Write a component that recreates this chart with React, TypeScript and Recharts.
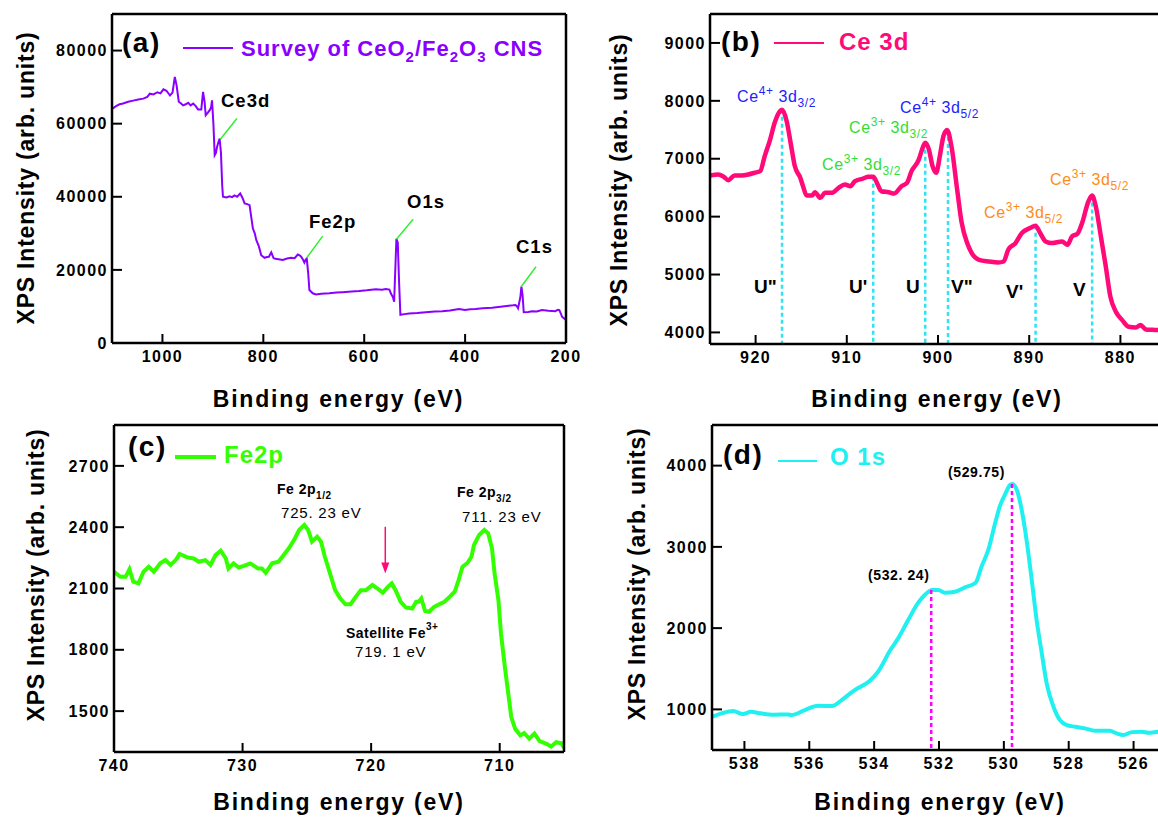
import { LineChart, Line, XAxis, YAxis, ReferenceLine, ReferenceDot, Customized } from "recharts"

const FONT = "'Liberation Sans', Arial, Helvetica, sans-serif"

// (a) survey spectrum
const surveyBE = [1100, 1092, 1085, 1078, 1068, 1058, 1048, 1038, 1030, 1025, 1018, 1010, 1004, 998, 992, 985, 980, 975.5, 972, 967.6, 963, 959, 954, 949, 944, 939, 934, 929.4, 923, 919.5, 916.5, 914.2, 910, 906.3, 903.5, 901.7, 899, 896.4, 894, 891.8, 889, 886.6, 884, 881.5, 880, 873, 866.8, 862, 857, 852, 845.8, 841, 837.2, 832, 827.3, 824, 820.7, 817, 814, 809, 804.2, 797.6, 793, 789, 784.3, 780, 777.9, 770, 761.3, 753, 744.9, 738, 731.7, 728, 725, 721, 718.6, 716, 713.9, 711, 708.7, 702, 695.5, 685, 669.2, 655, 642.9, 625, 610, 595, 577, 565, 557.2, 550, 547.3, 543, 540.7, 536.2, 533.5, 531, 528.3, 520, 511, 495, 478, 460, 445.3, 430, 412.3, 400, 390, 379.4, 365, 346.4, 330, 313.4, 305, 300.2, 297, 295, 290.5, 288.4, 286, 283.8, 275, 267.3, 258, 247.5, 235, 221.1, 216, 213.3, 210, 208, 202.5, 200]
const surveyCounts = [64000, 64800, 65300, 65500, 66000, 66300, 66600, 66850, 67300, 68200, 68000, 68600, 68300, 69400, 69000, 67700, 68500, 72800, 70500, 66000, 65500, 65000, 65300, 65700, 65000, 65500, 64800, 63900, 63900, 68700, 66000, 62300, 63000, 63700, 64500, 66400, 60000, 51400, 52000, 53600, 55000, 55900, 52000, 43000, 40000, 39800, 40100, 39900, 40400, 40000, 40900, 39600, 38200, 38000, 37700, 34500, 31300, 30000, 28200, 26500, 24000, 23300, 23500, 23600, 24800, 23300, 23100, 22900, 22700, 23100, 23300, 23200, 24200, 24000, 23600, 22700, 22000, 22800, 23100, 19000, 14500, 13600, 13300, 13500, 13600, 13800, 13900, 14100, 14200, 14400, 14700, 14600, 14750, 14600, 13600, 12500, 11300, 28500, 27500, 17000, 7700, 7900, 8100, 8200, 8400, 8600, 8700, 8900, 9300, 9000, 9200, 9300, 9500, 9650, 9900, 10200, 10300, 10400, 10000, 9500, 12500, 15400, 13000, 8400, 8500, 8700, 8600, 9000, 8800, 8700, 9100, 9000, 8000, 7200, 6600, 6300]
const surveyTicksX = [1000, 800, 600, 400, 200]
const surveyTicksY = [0, 20000, 40000, 60000, 80000]
const surveyPeakNames = ["Ce3d", "Fe2p", "O1s", "C1s"]
const leaderFromBE = [885.2, 714, 536.2, 289]
const leaderFromI = [55730, 23310, 28410, 15380]
const leaderToBE = [852.4, 682.4, 503, 259.4]
const leaderToI = [61390, 29230, 33880, 20840]

// (b) Ce 3d
const ceBE = [925, 924.1, 923.5, 923, 922.3, 921.5, 920.8, 920.1, 919.5, 919, 918.4, 917.9, 917.3, 917.1, 916.6, 916.1, 915.7, 915.1, 914.8, 914.4, 913.8, 913.5, 912.9, 912.4, 911.6, 910.9, 910.2, 909.6, 909.1, 908.3, 907.6, 907.1, 906.7, 906.2, 905.4, 904.8, 904, 903.4, 902.9, 902.1, 901.8, 901.4, 901, 900.6, 900.2, 899.8, 899.4, 899, 898.5, 897.9, 897.4, 896.8, 896.3, 895.5, 894.4, 893.4, 892.8, 892.3, 891.5, 890.8, 889.9, 889.3, 888.8, 888.2, 887.5, 886.4, 885.8, 885.3, 884.7, 884.2, 883.5, 883.1, 882.7, 882.2, 881.6, 881.1, 880.5, 879.8, 879.1, 878.3, 877.8, 877.2, 876.5, 875]
const ceCounts = [6711, 6729, 6689, 6630, 6711, 6711, 6729, 6758, 6786, 7046, 7336, 7625, 7827, 7844, 7653, 7220, 6873, 6671, 6526, 6364, 6364, 6422, 6324, 6411, 6411, 6498, 6555, 6526, 6613, 6654, 6689, 6689, 6584, 6439, 6422, 6399, 6526, 6584, 6786, 6989, 7133, 7278, 7162, 6873, 6758, 7046, 7393, 7497, 7191, 6468, 5891, 5544, 5370, 5254, 5225, 5208, 5225, 5428, 5544, 5717, 5804, 5844, 5717, 5572, 5544, 5572, 5514, 5659, 5705, 5891, 6266, 6364, 6179, 5717, 5138, 4618, 4357, 4213, 4098, 4086, 4127, 4052, 4045, 4035]
const ceTicksX = [920, 910, 900, 890, 880]
const ceTicksY = [4000, 5000, 6000, 7000, 8000, 9000]
const cePeakBE = [917.1, 907.1, 901.4, 898.9, 889.3, 883.1]
const cePeakI = [7844, 6689, 7278, 7497, 5844, 6364]
const cePeakNames = ['U"', "U'", "U", 'V"', "V'", "V"]

// (c) Fe 2p
const feBE = [740, 739.5, 739.1, 738.8, 738.5, 738.1, 737.7, 737.3, 736.9, 736.4, 736, 735.6, 735.2, 734.9, 734.3, 733.8, 733.4, 732.9, 732.5, 732.1, 731.7, 731.3, 731.1, 730.7, 730.3, 729.9, 729.4, 728.8, 728.5, 728.2, 727.7, 727.2, 726.8, 726.4, 726, 725.6, 725.2, 724.9, 724.6, 724.2, 723.9, 723.6, 723.2, 722.8, 722.4, 722, 721.6, 721.2, 720.8, 720.4, 719.9, 719.5, 719.1, 718.7, 718.4, 718.1, 717.7, 717.3, 716.8, 716.5, 716.3, 716.1, 715.8, 715.5, 715.1, 714.7, 714.3, 713.9, 713.5, 713.2, 712.9, 712.5, 712.2, 712, 711.6, 711.2, 710.9, 710.6, 710.4, 710.1, 709.9, 709.6, 709.3, 709.1, 708.8, 708.4, 708.1, 707.7, 707.3, 706.9, 706.4, 706, 705.6, 705.2, 705]
const feCounts = [2182, 2157, 2157, 2194, 2133, 2125, 2182, 2206, 2182, 2223, 2239, 2215, 2239, 2269, 2252, 2247, 2231, 2239, 2215, 2264, 2285, 2247, 2198, 2223, 2203, 2211, 2223, 2198, 2198, 2177, 2223, 2231, 2264, 2297, 2337, 2386, 2411, 2386, 2329, 2353, 2329, 2255, 2174, 2092, 2051, 2023, 2023, 2059, 2092, 2092, 2117, 2100, 2079, 2108, 2125, 2092, 2035, 2007, 2002, 2035, 2035, 2051, 1990, 1986, 2010, 2023, 2035, 2059, 2084, 2141, 2206, 2226, 2255, 2313, 2362, 2386, 2370, 2297, 2174, 2043, 1880, 1716, 1569, 1471, 1414, 1381, 1393, 1365, 1390, 1353, 1341, 1327, 1348, 1343, 1320]
const feTicksX = [740, 730, 720, 710]
const feTicksY = [1500, 1800, 2100, 2400, 2700]
const feSatBE = 718.9
const feArrowTop = 2402
const feArrowTip = 2174

// (d) O 1s
const oBE = [539, 538.7, 538.35, 538.04, 537.8, 537.5, 537.1, 536.65, 536.55, 536.14, 535.73, 535.3, 535, 534.6, 534.13, 533.88, 533.5, 533.26, 532.95, 532.64, 532.44, 532.21, 532.02, 531.82, 531.51, 531.2, 530.87, 530.69, 530.48, 530.27, 530.12, 529.97, 529.81, 529.74, 529.6, 529.45, 529.3, 529.14, 528.99, 528.83, 528.68, 528.47, 528.27, 528.06, 527.8, 527.5, 527.19, 526.73, 526.52, 526.31, 526.05, 525.74, 525.54, 525.25, 525]
const oCounts = [909, 951, 979, 942, 970, 951, 934, 938, 930, 991, 1044, 1041, 1115, 1238, 1352, 1463, 1730, 1874, 2100, 2313, 2408, 2469, 2469, 2436, 2448, 2502, 2559, 2756, 2962, 3291, 3504, 3639, 3762, 3775, 3701, 3455, 3085, 2593, 2100, 1690, 1320, 1033, 868, 806, 786, 766, 736, 736, 704, 684, 720, 724, 712, 724, 730]
const oTicksX = [538, 536, 534, 532, 530, 528, 526]
const oTicksY = [1000, 2000, 3000, 4000]
const oPeakBE = [532.24, 529.75]
const oPeakI = [2469, 3775]

const toRows = (xs: number[], ys: number[]) => xs.map((be, i) => ({ be, v: ys[i] }))
const surveyData = toRows(surveyBE, surveyCounts)
const ceData = toRows(ceBE, ceCounts)
const feData = toRows(feBE, feCounts)
const oData = toRows(oBE, oCounts)

const axisLine = { stroke: "#000", strokeWidth: 2.5 }
const tickLine = { stroke: "#000", strokeWidth: 2 }
const tickFont = { fill: "#000", fontSize: 16, fontWeight: 700 }

function frame(xDomain: number[], yDomain: number[], xTicks: number[], yTicks: number[], yWidth: number) {
  return [
    <XAxis key="xb" xAxisId="b" dataKey="be" type="number" domain={xDomain} ticks={xTicks} interval={0} reversed allowDataOverflow height={30} tickSize={-9} tickMargin={17} axisLine={axisLine} tickLine={tickLine} tick={tickFont} />,
    <XAxis key="xt" xAxisId="t" orientation="top" type="number" domain={xDomain} ticks={xTicks} interval={0} reversed allowDataOverflow height={1} tickSize={-9} axisLine={axisLine} tickLine={tickLine} tick={false} />,
    <YAxis key="yl" yAxisId="l" type="number" domain={yDomain} ticks={yTicks} interval={0} allowDataOverflow width={yWidth} tickSize={-10} tickMargin={14} axisLine={axisLine} tickLine={tickLine} tick={tickFont} />,
    <YAxis key="yr" yAxisId="r" orientation="right" type="number" domain={yDomain} ticks={yTicks} interval={0} allowDataOverflow width={1} tickSize={-10} axisLine={axisLine} tickLine={tickLine} tick={false} />,
  ]
}

function Titles({ yx, yy, xx, xy }: { yx: number; yy: number; xx: number; xy: number }) {
  return (
    <g fontWeight={700} fontSize={23} fill="#000">
      <text x={yx} y={yy} textAnchor="middle" letterSpacing={0.8} transform={`rotate(-90, ${yx}, ${yy})`}>
        XPS Intensity (arb. units)
      </text>
      <text x={xx} y={xy} textAnchor="middle" letterSpacing={1.8}>
        Binding energy (eV)
      </text>
    </g>
  )
}

function Ion({ x, y, ion, orb, fill }: { x: number; y: number; ion: string; orb: string; fill: string }) {
  return (
    <text x={x} y={y} fontSize={16} fill={fill} letterSpacing={0.6}>
      Ce
      <tspan dy={-7} fontSize={12}>{ion}</tspan>
      <tspan dy={7}> 3d</tspan>
      <tspan dy={5} fontSize={12}>{orb}</tspan>
    </text>
  )
}

const pink = "#ff0a78"
const purple = "#8a00ff"
const leaderGreen = "#33ee33"
const dashCyan = "#2ee3f2"

export default function App() {
  return (
    <div style={{ position: "absolute", left: 0, top: 0, width: 1158, height: 818, overflow: "hidden", background: "#fff", fontFamily: FONT }}>
      <style>{`.recharts-cartesian-axis-tick-value { letter-spacing: 1.5px; }`}</style>

      {/* (a) survey */}
      <div style={{ position: "absolute", left: 0, top: 0 }}>
        <LineChart width={600} height={420} data={surveyData} margin={{ top: 13, right: 33, bottom: 47, left: 0 }}>
          {frame([200, 1100], [0, 90000], surveyTicksX, surveyTicksY, 112)}
          <Line xAxisId="b" yAxisId="l" dataKey="v" type="linear" stroke={purple} strokeWidth={2} dot={false} isAnimationActive={false} />
          {surveyPeakNames.map((n, i) => (
            <ReferenceLine key={n} xAxisId="b" yAxisId="l" segment={[{ x: leaderFromBE[i], y: leaderFromI[i] }, { x: leaderToBE[i], y: leaderToI[i] }]} stroke={leaderGreen} strokeWidth={1.5} />
          ))}
          <Customized
            component={() => (
              <g>
                <Titles yx={33.5} yy={178} xx={338.5} xy={406.5} />
                <text x={122} y={52} fontSize={28} fontWeight={700} letterSpacing={1.5}>(a)</text>
                <line x1={183} x2={233} y1={48} y2={48} stroke={purple} strokeWidth={2} />
                <text x={241} y={56} fontSize={22} fontWeight={700} fill={purple} letterSpacing={1}>
                  Survey of CeO<tspan dy={6} fontSize={15}>2</tspan>
                  <tspan dy={-6}>/Fe</tspan>
                  <tspan dy={6} fontSize={15}>2</tspan>
                  <tspan dy={-6}>O</tspan>
                  <tspan dy={6} fontSize={15}>3</tspan>
                  <tspan dy={-6}> CNS</tspan>
                </text>
                <g fontSize={18.5} fontWeight={700} letterSpacing={1}>
                  <text x={221} y={107}>{surveyPeakNames[0]}</text>
                  <text x={309} y={228}>{surveyPeakNames[1]}</text>
                  <text x={407} y={208}>{surveyPeakNames[2]}</text>
                  <text x={516} y={253}>{surveyPeakNames[3]}</text>
                </g>
              </g>
            )}
          />
        </LineChart>
      </div>

      {/* (b) Ce 3d */}
      <div style={{ position: "absolute", left: 580, top: 0 }}>
        <LineChart width={600} height={420} data={ceData} margin={{ top: 13, right: 13, bottom: 46, left: 0 }}>
          {frame([875, 925], [3800, 9500], ceTicksX, ceTicksY, 130)}
          {cePeakBE.map((be, i) => (
            <ReferenceLine key={cePeakNames[i]} xAxisId="b" yAxisId="l" segment={[{ x: be, y: cePeakI[i] }, { x: be, y: 3800 }]} stroke={dashCyan} strokeWidth={2.5} strokeDasharray="4 3" />
          ))}
          <Line xAxisId="b" yAxisId="l" dataKey="v" type="monotone" stroke={pink} strokeWidth={4.5} dot={false} isAnimationActive={false} />
          <Customized
            component={() => (
              <g>
                <Titles yx={47} yy={180} xx={357} xy={406.5} />
                <text x={141} y={51} fontSize={28} fontWeight={700} letterSpacing={1.5}>(b)</text>
                <line x1={194} x2={244} y1={43} y2={43} stroke={pink} strokeWidth={2} />
                <text x={259} y={50} fontSize={24} fontWeight={700} fill={pink} letterSpacing={1}>Ce 3d</text>
                <Ion x={157} y={102} ion="4+" orb="3/2" fill="#2222ff" />
                <Ion x={242} y={170} ion="3+" orb="3/2" fill="#33dd33" />
                <Ion x={269} y={133} ion="3+" orb="3/2" fill="#33dd33" />
                <Ion x={320} y={113} ion="4+" orb="5/2" fill="#2222ff" />
                <Ion x={404} y={218} ion="3+" orb="5/2" fill="#ff8c1a" />
                <Ion x={470} y={185} ion="3+" orb="5/2" fill="#ff8c1a" />
                <g fontSize={19} fontWeight={700}>
                  <text x={174} y={293}>{cePeakNames[0]}</text>
                  <text x={269} y={293}>{cePeakNames[1]}</text>
                  <text x={326} y={293}>{cePeakNames[2]}</text>
                  <text x={371} y={293}>{cePeakNames[3]}</text>
                  <text x={426} y={298}>{cePeakNames[4]}</text>
                  <text x={493} y={296}>{cePeakNames[5]}</text>
                </g>
              </g>
            )}
          />
        </LineChart>
      </div>

      {/* (c) Fe 2p */}
      <div style={{ position: "absolute", left: 0, top: 400 }}>
        <LineChart width={580} height={418} data={feData} margin={{ top: 24, right: 15, bottom: 36, left: 0 }}>
          {frame([705, 740], [1300, 2900], feTicksX, feTicksY, 114)}
          <Line xAxisId="b" yAxisId="l" dataKey="v" type="linear" stroke="#33ff00" strokeWidth={4} dot={false} isAnimationActive={false} />
          <ReferenceLine xAxisId="b" yAxisId="l" segment={[{ x: feSatBE, y: feArrowTop }, { x: feSatBE, y: feArrowTip + 40 }]} stroke={pink} strokeWidth={1.5} />
          <ReferenceDot
            xAxisId="b"
            yAxisId="l"
            x={feSatBE}
            y={feArrowTip}
            r={1}
            shape={(p: any) => <path d={`M${p.cx - 4},${p.cy - 11} L${p.cx + 4},${p.cy - 11} L${p.cx},${p.cy} Z`} fill={pink} />}
          />
          <Customized
            component={() => (
              <g>
                <Titles yx={44} yy={175} xx={339} xy={409.5} />
                <text x={128} y={56} fontSize={28} fontWeight={700} letterSpacing={1.5}>(c)</text>
                <line x1={175} x2={216} y1={57} y2={57} stroke="#33ff00" strokeWidth={4} />
                <text x={224} y={63} fontSize={24} fontWeight={700} fill="#33ff00" letterSpacing={1}>Fe2p</text>
                <text x={277} y={94} fontSize={14} fontWeight={700} letterSpacing={0.5}>
                  Fe 2p<tspan dy={5} fontSize={10}>1/2</tspan>
                </text>
                <text x={281} y={118} fontSize={15} letterSpacing={0.8}>725. 23 eV</text>
                <text x={457} y={97} fontSize={14} fontWeight={700} letterSpacing={0.5}>
                  Fe 2p<tspan dy={5} fontSize={10}>3/2</tspan>
                </text>
                <text x={462} y={122} fontSize={15} letterSpacing={0.8}>711. 23 eV</text>
                <text x={346} y={238} fontSize={14} fontWeight={700} letterSpacing={0.5}>
                  Satellite Fe<tspan dy={-8} fontSize={10}>3+</tspan>
                </text>
                <text x={355} y={257} fontSize={15} letterSpacing={0.8}>719. 1 eV</text>
              </g>
            )}
          />
        </LineChart>
      </div>

      {/* (d) O 1s */}
      <div style={{ position: "absolute", left: 580, top: 400 }}>
        <LineChart width={600} height={418} data={oData} margin={{ top: 24, right: 13, bottom: 38, left: 0 }}>
          {frame([525, 539], [500, 4500], oTicksX, oTicksY, 132)}
          <Line xAxisId="b" yAxisId="l" dataKey="v" type="monotone" stroke="#20f0f0" strokeWidth={4} dot={false} isAnimationActive={false} />
          {oPeakBE.map((be, i) => (
            <ReferenceLine key={be} xAxisId="b" yAxisId="l" segment={[{ x: be, y: oPeakI[i] }, { x: be, y: 500 }]} stroke="#ff00ff" strokeWidth={2.5} strokeDasharray="4 3" />
          ))}
          <Customized
            component={() => (
              <g>
                <Titles yx={65} yy={174} xx={360} xy={410} />
                <text x={143} y={64} fontSize={28} fontWeight={700} letterSpacing={1.5}>(d)</text>
                <line x1={198} x2={237} y1={61} y2={61} stroke="#20f0f0" strokeWidth={2} />
                <text x={250} y={65} fontSize={24} fontWeight={700} fill="#20f0f0" letterSpacing={1}>O 1s</text>
                <text x={288} y={180} fontSize={14} fontWeight={700} letterSpacing={0.6}>(532. 24)</text>
                <text x={368} y={77} fontSize={14} fontWeight={700} letterSpacing={0.6}>(529.75)</text>
              </g>
            )}
          />
        </LineChart>
      </div>
    </div>
  )
}
